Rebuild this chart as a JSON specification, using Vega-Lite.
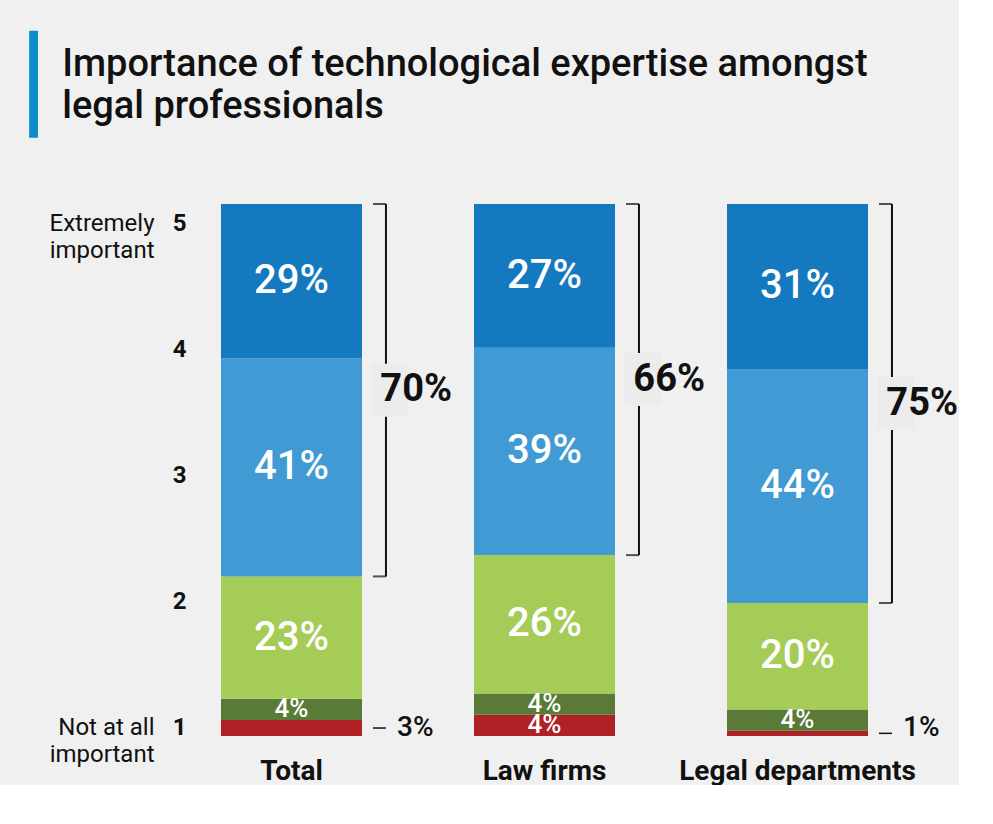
{
  "$schema": "https://vega.github.io/schema/vega-lite/v6.json",
  "background": "#f0f0f0",
  "padding": {"left": 30, "top": 43, "right": 0, "bottom": 0},
  "config": {
    "view": {"stroke": null},
    "font": "Roboto",
    "axis": {"grid": false}
  },
  "datasets": {
    "segments": [
      {"cat": "Total", "level": 1, "share": 0.03, "pos": "out"},
      {"cat": "Total", "level": 2, "share": 0.04, "pos": "in"},
      {"cat": "Total", "level": 3, "share": 0.23, "pos": "in"},
      {"cat": "Total", "level": 4, "share": 0.41, "pos": "in"},
      {"cat": "Total", "level": 5, "share": 0.29, "pos": "in"},
      {"cat": "Law firms", "level": 1, "share": 0.04, "pos": "in"},
      {"cat": "Law firms", "level": 2, "share": 0.04, "pos": "in"},
      {"cat": "Law firms", "level": 3, "share": 0.26, "pos": "in"},
      {"cat": "Law firms", "level": 4, "share": 0.39, "pos": "in"},
      {"cat": "Law firms", "level": 5, "share": 0.27, "pos": "in"},
      {"cat": "Legal departments", "level": 1, "share": 0.01, "pos": "out"},
      {"cat": "Legal departments", "level": 2, "share": 0.04, "pos": "in"},
      {"cat": "Legal departments", "level": 3, "share": 0.20, "pos": "in"},
      {"cat": "Legal departments", "level": 4, "share": 0.44, "pos": "in"},
      {"cat": "Legal departments", "level": 5, "share": 0.31, "pos": "in"}
    ],
    "brackets": [
      {"cat": "Total", "part": "rest", "share": 0.30},
      {"cat": "Total", "part": "top", "share": 0.70},
      {"cat": "Law firms", "part": "rest", "share": 0.34},
      {"cat": "Law firms", "part": "top", "share": 0.66},
      {"cat": "Legal departments", "part": "rest", "share": 0.25},
      {"cat": "Legal departments", "part": "top", "share": 0.75}
    ],
    "levels": [
      {"level": 1}, {"level": 2}, {"level": 3}, {"level": 4}, {"level": 5}
    ]
  },
  "title": {
    "text": "▏",
    "subtitle": ["\u200b\u00a0\u00a0\u00a0\u200aImportance of technological expertise amongst", "\u200b\u00a0\u00a0\u00a0\u200alegal professionals"],
    "anchor": "start",
    "offset": 66,
    "font": "DejaVu Sans",
    "fontSize": 90,
    "fontWeight": "normal",
    "color": "#0b8dcd",
    "subtitleFont": "Roboto",
    "subtitleFontSize": 38,
    "subtitleFontWeight": 500,
    "subtitleLineHeight": 42,
    "subtitleColor": "#111111",
    "subtitlePadding": -88
  },
  "width": 697,
  "height": 532,
  "layer": [
    {
      "data": {"name": "segments"},
      "mark": {"type": "bar"},
      "encoding": {
        "x": {
          "field": "cat", "type": "nominal", "title": null,
          "sort": ["Total", "Law firms", "Legal departments"],
          "scale": {"paddingInner": 0.4427, "paddingOuter": 0.0988},
          "axis": {
            "orient": "bottom", "labelAngle": 0, "ticks": false, "domain": false,
            "labelPadding": 21, "labelFont": "Roboto", "labelFontSize": 28,
            "labelFontWeight": "bold", "labelColor": "#111111", "labelLimit": 300
          }
        },
        "y": {
          "field": "share", "type": "quantitative", "stack": "zero",
          "scale": {"domain": [0, 1], "nice": false}, "axis": null
        },
        "color": {
          "field": "level", "type": "ordinal",
          "scale": {
            "domain": [1, 2, 3, 4, 5],
            "range": ["#b02127", "#597b37", "#a6cc58", "#419ad4", "#1579bf"]
          },
          "legend": null
        },
        "order": {"field": "level", "type": "quantitative", "sort": "ascending"}
      }
    },
    {
      "data": {"name": "segments"},
      "mark": {"type": "text", "color": "#ffffff", "font": "Roboto", "fontWeight": 500, "baseline": "middle"},
      "encoding": {
        "x": {"field": "cat", "type": "nominal", "title": null, "sort": ["Total", "Law firms", "Legal departments"]},
        "y": {"field": "share", "type": "quantitative", "stack": "zero", "bandPosition": 0.5, "scale": {"domain": [0, 1], "nice": false}, "axis": null},
        "detail": {"field": "level"},
        "order": {"field": "level", "type": "quantitative", "sort": "ascending"},
        "text": {"field": "share", "type": "quantitative", "format": ".0%"},
        "size": {"condition": {"test": "datum.share < 0.1", "value": 26}, "value": 40},
        "opacity": {"condition": {"test": "datum.pos == 'out'", "value": 0}, "value": 1}
      }
    },
    {
      "data": {"name": "segments"},
      "mark": {"type": "point", "shape": "M-1,0H1", "size": 169, "filled": false, "strokeWidth": 1.5, "color": "#111111"},
      "encoding": {
        "x": {"field": "cat", "type": "nominal", "title": null, "sort": ["Total", "Law firms", "Legal departments"], "bandPosition": 1.124},
        "y": {"field": "share", "type": "quantitative", "stack": "zero", "bandPosition": 0.5, "scale": {"domain": [0, 1], "nice": false}, "axis": null},
        "detail": {"field": "level"},
        "order": {"field": "level", "type": "quantitative", "sort": "ascending"},
        "opacity": {"condition": {"test": "datum.pos == 'out'", "value": 1}, "value": 0}
      }
    },
    {
      "data": {"name": "segments"},
      "mark": {"type": "text", "color": "#111111", "font": "Roboto", "fontWeight": 500, "fontSize": 28, "align": "left", "baseline": "alphabetic"},
      "encoding": {
        "x": {"field": "cat", "type": "nominal", "title": null, "sort": ["Total", "Law firms", "Legal departments"], "bandPosition": 1.248},
        "y": {"field": "share", "type": "quantitative", "stack": "zero", "bandPosition": 0, "scale": {"domain": [0, 1], "nice": false}, "axis": null},
        "detail": {"field": "level"},
        "order": {"field": "level", "type": "quantitative", "sort": "ascending"},
        "text": {"field": "share", "type": "quantitative", "format": ".0%"},
        "opacity": {"condition": {"test": "datum.pos == 'out'", "value": 1}, "value": 0}
      }
    },
    {
      "data": {"name": "brackets"},
      "transform": [
        {"stack": "share", "groupby": ["cat"], "sort": [{"field": "part", "order": "ascending"}], "as": ["s0", "s1"]},
        {"filter": "datum.part == 'top'"}
      ],
      "mark": {"type": "rule", "strokeWidth": 2, "color": "#111111"},
      "encoding": {
        "x": {"field": "cat", "type": "nominal", "title": null, "sort": ["Total", "Law firms", "Legal departments"], "bandPosition": 1.17},
        "y": {"field": "s0", "type": "quantitative", "scale": {"domain": [0, 1], "nice": false}, "axis": null},
        "y2": {"field": "s1"}
      }
    },
    {
      "data": {"name": "brackets"},
      "mark": {"type": "point", "shape": "M-1,0H1", "size": 169, "filled": false, "strokeWidth": 2, "color": "#111111"},
      "encoding": {
        "x": {"field": "cat", "type": "nominal", "title": null, "sort": ["Total", "Law firms", "Legal departments"], "bandPosition": 1.124},
        "y": {"field": "share", "type": "quantitative", "stack": "zero", "scale": {"domain": [0, 1], "nice": false}, "axis": null},
        "detail": {"field": "part"},
        "order": {"field": "part", "sort": "ascending"}
      }
    },
    {
      "data": {"name": "brackets"},
      "mark": {"type": "point", "shape": "M-0.74,-1.06H0.74V1.06H-0.74Z", "size": 2500, "filled": true, "color": "#ececec", "strokeWidth": 0},
      "encoding": {
        "x": {"field": "cat", "type": "nominal", "title": null, "sort": ["Total", "Law firms", "Legal departments"], "bandPosition": 1.2},
        "y": {"field": "share", "type": "quantitative", "stack": "zero", "bandPosition": 0.5, "scale": {"domain": [0, 1], "nice": false}, "axis": null},
        "detail": {"field": "part"},
        "order": {"field": "part", "sort": "ascending"},
        "opacity": {"condition": {"test": "datum.part == 'top'", "value": 1}, "value": 0}
      }
    },
    {
      "data": {"name": "brackets"},
      "mark": {"type": "text", "color": "#111111", "font": "Roboto", "fontWeight": "bold", "fontSize": 38, "align": "left", "baseline": "middle"},
      "encoding": {
        "x": {"field": "cat", "type": "nominal", "title": null, "sort": ["Total", "Law firms", "Legal departments"], "bandPosition": 1.13},
        "y": {"field": "share", "type": "quantitative", "stack": "zero", "bandPosition": 0.5, "scale": {"domain": [0, 1], "nice": false}, "axis": null},
        "detail": {"field": "part"},
        "order": {"field": "part", "sort": "ascending"},
        "text": {"field": "share", "type": "quantitative", "format": ".0%"},
        "opacity": {"condition": {"test": "datum.part == 'top'", "value": 1}, "value": 0}
      }
    },
    {
      "data": {"name": "levels"},
      "mark": {"type": "rule", "opacity": 0},
      "encoding": {
        "y": {
          "field": "level", "type": "quantitative",
          "scale": {"domain": [0.9286, 5.155], "nice": false, "zero": false},
          "axis": {
            "orient": "left", "values": [1, 2, 3, 4, 5], "title": null,
            "ticks": false, "domain": false, "labelPadding": 10,
            "labelFont": "Roboto", "labelFontSize": 24, "labelFontWeight": "bold",
            "labelColor": "#111111"
          }
        }
      }
    },
    {
      "data": {"name": "levels"},
      "mark": {"type": "rule", "opacity": 0},
      "encoding": {
        "y": {
          "field": "level", "type": "quantitative",
          "scale": {"domain": [0.9286, 5.155], "nice": false, "zero": false},
          "axis": {
            "orient": "left", "values": [1, 5], "title": null,
            "ticks": false, "domain": false, "labelPadding": 42, "minExtent": 166,
            "labelExpr": "datum.value == 5 ? ['Extremely', 'important'] : ['Not at all', 'important']",
            "labelFont": "Roboto", "labelFontSize": 24, "labelFontWeight": "normal",
            "labelLineHeight": 27, "labelColor": "#111111", "labelAlign": "right"
          }
        }
      }
    }
  ],
  "resolve": {"scale": {"y": "independent"}}
}
